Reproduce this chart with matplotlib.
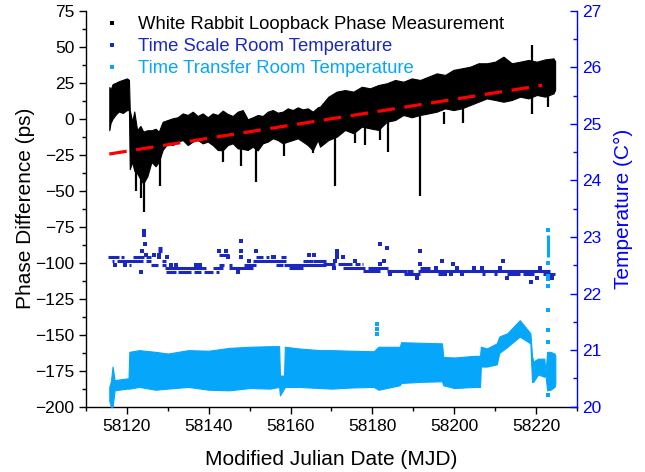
import numpy as np
import matplotlib.pyplot as plt
from matplotlib.lines import Line2D

plt.rcParams['font.family'] = ['Liberation Sans', 'DejaVu Sans']

# --- White Rabbit loopback phase (ps): band envelope ---
wr_mjd = [58115.7, 58116.0, 58116.5, 58117.3, 58118.0, 58119.0, 58120.0, 58120.5, 58120.7, 58121.3,
          58121.8, 58122.5, 58123.3, 58124.0, 58125.0, 58126.0, 58127.0, 58127.8,
          58128.74, 58129.97, 58131.19, 58132.41, 58133.63, 58134.86, 58136.08, 58137.30, 58138.52,
          58139.75, 58140.97, 58142.19, 58143.41, 58144.64, 58145.86, 58147.08, 58148.30, 58149.53,
          58150.75, 58151.97, 58153.19, 58154.42, 58155.64, 58156.86, 58158.08, 58159.31, 58160.53,
          58161.75, 58162.97, 58164.20, 58165.42, 58166.64,
          58167.20, 58169.24, 58171.27, 58173.31, 58175.35, 58177.39, 58179.42, 58181.46, 58183.50,
          58185.54, 58187.57, 58189.61, 58191.65, 58193.69, 58195.72, 58197.76, 58199.80, 58201.84,
          58203.87, 58205.91, 58207.95, 58209.99, 58212.02, 58214.06, 58216.10, 58218.14, 58220.17,
          58222.21, 58224.25, 58224.65]
wr_top = [22, 20, 24, 25, 26, 27, 28, 27, 6, -2,
          5, -8, -5, -9, -8, -8, -7, -9,
          -2.1, -0.9, 0.3, 1.0, 3.7, 2.6, 4.9, 1.9, 3.7,
          1.0, 3.7, 2.6, 5.6, 3.3, 1.9, 4.9, 6.0, -0.4,
          1.0, 2.6, 1.9, 4.9, 6.0, 4.2, 4.9, 7.2, 6.0,
          7.9, 6.5, 7.2, 4.9, 7.9,
          8.4, 15.3, 18.8, 19.9, 18.8, 22.2, 21.1, 23.4, 24.6,
          26.9, 25.7, 28.0, 26.9, 29.2, 31.5, 30.4, 33.9, 35.0,
          36.1, 38.5, 38.5, 39.6, 43.1, 38.5, 39.6, 40.8, 39.6,
          41.2, 41.9, 40.0]
wr_bot = [-8, -3, 0, 3, 5, 4, 6, 6, -35, -30,
          -36, -38, -42, -45, -40, -30, -33, -30,
          -21.7, -17.1, -18.3, -15.9, -14.8, -18.3, -15.9, -14.8, -17.1,
          -15.9, -18.3, -21.7, -22.0, -18.3, -17.1, -20.6, -21.0, -21.7,
          -19.4, -22.0, -17.1, -15.9, -13.6, -14.8, -17.1, -15.9, -14.8,
          -13.6, -15.9, -18.3, -22.0, -14.8,
          -19.4, -14.8, -12.5, -7.8, -10.1, -5.5, -6.7, -7.8, -2.1,
          -0.9, 2.6, 1.0, 2.6, 3.7, 4.9, 7.2, 6.0, 7.2,
          9.5, 11.8, 14.1, 13.0, 11.8, 13.0, 15.3, 14.1, 16.5,
          15.3, 17.6, 20.0]
# narrow glitches (mjd, low, high)
spk_mjd = [58122.3, 58123.5, 58124.3, 58128.0, 58143.4, 58147.9, 58151.6, 58158.5, 58165.4, 58170.9,
           58175.8, 58178.2, 58181.9, 58183.9, 58191.7, 58197.4, 58202.2, 58219.0, 58223.0]
spk_lo = [-50, -55, -64.6, -47, -30, -33, -44, -26, -24, -47,
          -17, -18, -15, -23, -54, -4, -3, 3, 8]
spk_hi = [-10, -10, -14, -12, -10, -10, -10, -8, -8, -8,
          -5, -3, 0, 0, 3, 5, 8, 51, 18]

# linear fit (dashed red)
fit_mjd = [58115.7, 58221.5]
fit_ps = [-24.5, 23.2]

# --- Time Scale Room temperature (C): quantised runs + single readings ---
ts_start = [58115.5, 58116.4, 58117.7, 58118.6, 58120.6, 58121.4, 58124.7, 58124.7, 58125.9, 58127.5,
            58127.5, 58128.7, 58128.7, 58129.2, 58129.6, 58132.4, 58136.5, 58138.9, 58141.0, 58141.8,
            58142.6, 58142.4, 58145.0, 58145.0, 58148.7, 58150.7, 58151.6, 58154.0, 58156.5, 58157.7,
            58158.5, 58159.7, 58163.0, 58165.4, 58165.4, 58167.2, 58168.0, 58171.7, 58172.9, 58175.8,
            58177.4, 58177.8, 58179.0, 58183.5, 58187.6, 58188.4, 58191.6, 58191.2, 58196.1, 58206.7,
            58209.6, 58212.8, 58216.9, 58221.8]
ts_end = [58118.1, 58116.9, 58123.9, 58119.4, 58121.0, 58124.3, 58125.9, 58125.9, 58127.5, 58128.7,
          58128.7, 58129.6, 58129.6, 58139.3, 58132.0, 58135.7, 58138.1, 58141.0, 58143.4, 58142.6,
          58143.8, 58145.0, 58150.7, 58145.7, 58151.6, 58158.9, 58153.2, 58154.8, 58158.1, 58158.9,
          58166.2, 58163.0, 58165.4, 58168.7, 58168.7, 58168.4, 58170.9, 58174.9, 58178.2, 58177.0,
          58177.8, 58181.9, 58183.9, 58188.4, 58191.6, 58190.0, 58194.1, 58223.4, 58197.4, 58207.5,
          58210.4, 58216.1, 58219.4, 58224.7]
ts_level = [22.64, 22.57, 22.57, 22.64, 22.51, 22.64, 22.64, 22.57, 22.51, 22.81,
            22.75, 22.57, 22.51, 22.45, 22.39, 22.39, 22.39, 22.39, 22.45, 22.39,
            22.51, 22.69, 22.45, 22.51, 22.51, 22.57, 22.64, 22.64, 22.51, 22.64,
            22.51, 22.45, 22.57, 22.57, 22.51, 22.58, 22.52, 22.52, 22.46, 22.52,
            22.52, 22.40, 22.46, 22.40, 22.34, 22.40, 22.46, 22.40, 22.34, 22.34,
            22.34, 22.34, 22.34, 22.34]
ts_pt_mjd = [58117.0, 58119.6, 58123.4, 58123.7, 58124.3, 58124.3, 58124.5, 58124.7, 58126.7, 58127.8,
             58127.9, 58129.7, 58130.8, 58132.0, 58136.9, 58137.9, 58142.6, 58144.2, 58144.6, 58147.1,
             58147.9, 58147.9, 58147.9, 58149.9, 58151.6, 58155.6, 58156.0, 58164.6, 58165.8, 58171.3,
             58171.3, 58171.3, 58170.9, 58170.6, 58172.9, 58175.8, 58181.9, 58181.9, 58182.9, 58183.5,
             58184.3, 58190.8, 58191.6, 58191.6, 58195.6, 58197.0, 58197.8, 58199.2, 58199.8, 58200.6,
             58201.8, 58204.9, 58206.9, 58211.2, 58212.0, 58212.8, 58218.8, 58220.2, 58221.0, 58223.8]
ts_pt_T = [22.51, 22.51, 22.39, 22.75, 23.10, 23.04, 22.87, 22.69, 22.69, 22.69,
           22.64, 22.64, 22.51, 22.51, 22.51, 22.51, 22.75, 22.75, 22.64, 22.39,
           22.93, 22.75, 22.64, 22.57, 22.75, 22.64, 22.64, 22.69, 22.69, 22.75,
           22.69, 22.64, 22.58, 22.46, 22.64, 22.58, 22.87, 22.52, 22.58, 22.81,
           22.34, 22.28, 22.75, 22.52, 22.46, 22.58, 22.34, 22.34, 22.52, 22.46,
           22.34, 22.46, 22.46, 22.46, 22.58, 22.28, 22.21, 22.28, 22.46, 22.28]

# --- Time Transfer Room temperature (C): band envelope ---
tt_mjd = [58115.7, 58116.1, 58116.5, 58117.0, 58120.0, 58120.4, 58120.6, 58123.0, 58127.0, 58130.0,
          58135.0, 58140.0, 58145.0, 58150.0, 58155.0, 58157.2, 58157.4, 58158.4, 58158.6, 58162.0,
          58167.2, 58170.0, 58175.0, 58180.3, 58181.5, 58186.7, 58187.0, 58192.0, 58197.0, 58197.3,
          58200.0, 58205.0, 58206.3, 58206.5, 58208.0, 58210.4, 58211.0, 58213.0, 58216.0, 58218.6,
          58219.0, 58219.3, 58220.5, 58222.0, 58222.3, 58222.7, 58223.5, 58224.5, 58224.7]
tt_top = [20.35, 20.45, 20.71, 20.47, 20.50, 20.50, 20.97, 21.00, 20.97, 20.94,
          21.00, 20.99, 21.04, 21.06, 21.07, 21.07, 20.55, 20.55, 21.06, 21.03,
          21.00, 21.00, 20.99, 20.98, 21.06, 21.06, 21.14, 21.13, 21.12, 20.88,
          20.87, 20.90, 20.90, 21.06, 21.03, 21.12, 21.24, 21.30, 21.53, 21.30,
          20.90, 20.80, 20.85, 20.85, 20.60, 20.97, 20.97, 20.94, 20.90]
tt_bot = [20.10, 20.00, 20.00, 20.29, 20.32, 20.32, 20.32, 20.35, 20.30, 20.32,
          20.35, 20.30, 20.29, 20.33, 20.32, 20.35, 20.20, 20.32, 20.35, 20.35,
          20.33, 20.32, 20.34, 20.35, 20.30, 20.38, 20.42, 20.44, 20.45, 20.38,
          20.33, 20.35, 20.35, 20.71, 20.71, 20.75, 20.95, 21.06, 21.24, 21.12,
          20.44, 20.44, 20.57, 20.53, 20.55, 20.29, 20.30, 20.35, 20.40]
tt_pt_mjd = [58181.0, 58181.0, 58181.0, 58222.9, 58222.9, 58222.9, 58222.9, 58222.9, 58222.9,
             58222.9, 58222.9, 58223.0]
tt_pt_T = [21.47, 21.38, 21.28, 23.13, 22.54, 22.31, 22.25, 22.13, 21.71, 21.35, 21.14, 20.20]
tt_streak_mjd = [58222.9]
tt_streak_lo = [22.65]
tt_streak_hi = [23.03]

C_TS = '#1a28c0'
C_TT = '#06a6fb'
C_AX = '#0000ff'

fig = plt.figure(figsize=(6.45, 4.72), dpi=100)
ax = fig.add_axes([0.1333, 0.1383, 0.7613, 0.839])
ax2 = ax.twinx()

ax.fill_between(wr_mjd, wr_bot, wr_top, color='black', lw=0.8)
ax.vlines(spk_mjd, spk_lo, spk_hi, color='black', lw=1.6)
ax.plot(fit_mjd, fit_ps, color='#ff0000', lw=2.3, dashes=(5.5, 3.0), zorder=5)

ax2.hlines(ts_level, ts_start, ts_end, color=C_TS, lw=2.2)
ax2.plot(ts_pt_mjd, ts_pt_T, 's', color=C_TS, ms=2.2, mew=0)
ax2.fill_between(tt_mjd, tt_bot, tt_top, color=C_TT, lw=0.8)
ax2.plot(tt_pt_mjd, tt_pt_T, 's', color=C_TT, ms=2.4, mew=0)
ax2.vlines(tt_streak_mjd, tt_streak_lo, tt_streak_hi, color=C_TT, lw=2.2)

ax.set_xlim(58110, 58230)
ax.set_ylim(-200, 75)
ax2.set_ylim(20, 27)
ax.set_xticks(np.arange(58120, 58221, 20))
ax.set_xticks(np.arange(58110, 58231, 10), minor=True)
ax.set_yticks(np.arange(-200, 76, 25))
ax.set_yticks(np.arange(-200, 76, 12.5), minor=True)
ax2.set_yticks(np.arange(20, 28, 1))
ax2.set_yticks(np.arange(20, 27.1, 0.5), minor=True)

for s in ['top', 'right']:
    ax.spines[s].set_visible(False)
for s in ['top', 'left', 'bottom']:
    ax2.spines[s].set_visible(False)
ax2.spines['right'].set_color(C_AX)
for s in ['left', 'bottom']:
    ax.spines[s].set_linewidth(1.0)
ax2.spines['right'].set_linewidth(1.0)

ax.tick_params(which='both', direction='out', labelsize=12.5, width=1.0)
ax.tick_params(which='major', length=5)
ax.tick_params(which='minor', length=3)
ax2.tick_params(which='both', direction='in', colors=C_AX, labelsize=12.5, width=1.0)
ax2.tick_params(which='major', length=5)
ax2.tick_params(which='minor', length=3)

ax.set_xlabel('Modified Julian Date (MJD)', fontsize=15, labelpad=12)
ax.set_ylabel('Phase Difference (ps)', fontsize=15, labelpad=0)
ax2.set_ylabel('Temperature (C°)', fontsize=15, color=C_AX, labelpad=9)

handles = [Line2D([], [], ls='none', marker='s', ms=2.4, mew=0, color=c) for c in ['black', C_TS, C_TT]]
labels = ['White Rabbit Loopback Phase Measurement', 'Time Scale Room Temperature',
          'Time Transfer Room Temperature']
leg = fig.legend(handles, labels, loc='upper left', bbox_to_anchor=(0.159, 0.966),
                 frameon=False, fontsize=13.3, handlelength=1.0, handletextpad=0.9,
                 labelspacing=0.27, borderpad=0, borderaxespad=0)
for t, c in zip(leg.get_texts(), ['black', C_TS, C_TT]):
    t.set_color(c)

fig.savefig('out.png', dpi=100)
